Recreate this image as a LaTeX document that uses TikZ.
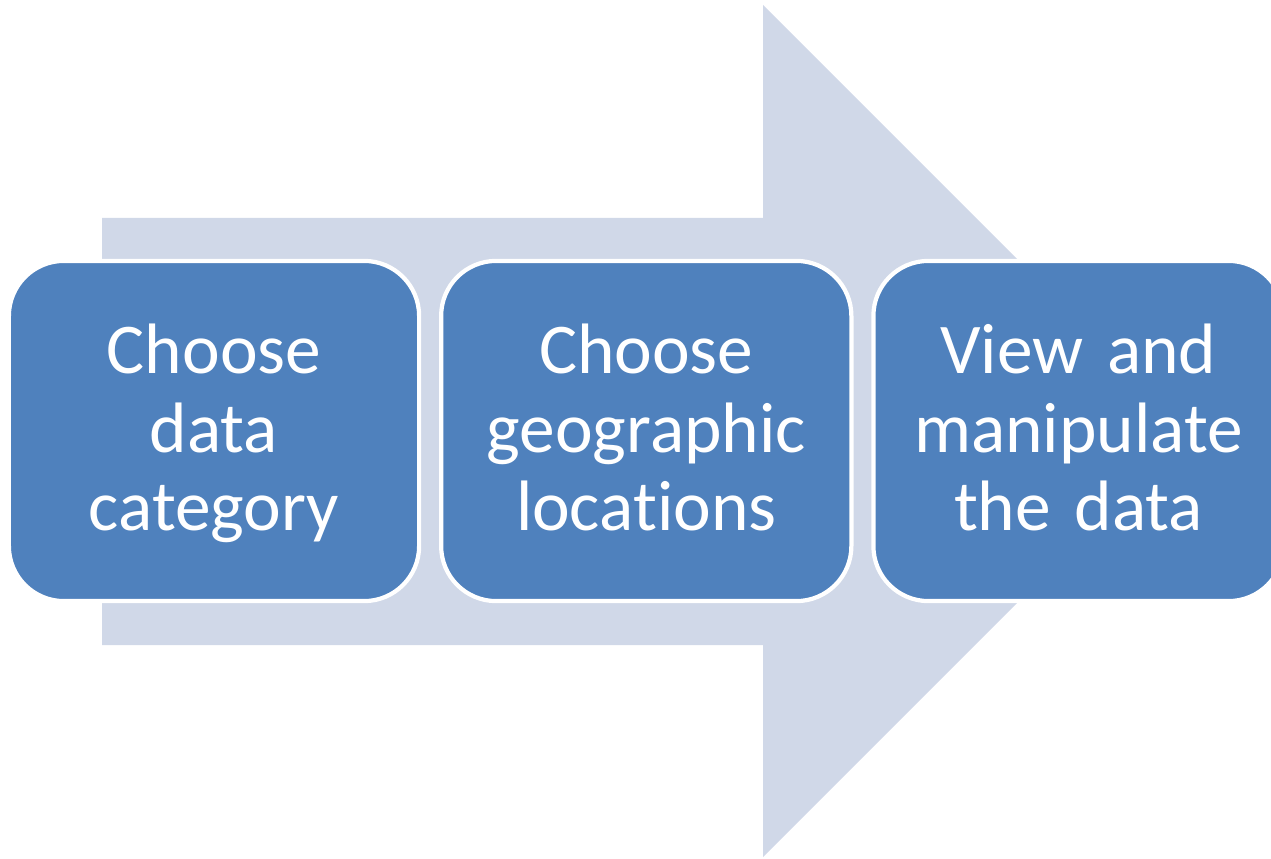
\documentclass[tikz,border=0pt]{standalone}
\usepackage{fontspec}
\setmainfont{Carlito}[Ligatures=NoCommon, WordSpace=0.85]
\usepackage{tikz}
\usetikzlibrary{shapes,arrows,arrows.meta}
\usetikzlibrary{positioning}
\definecolor{arrowgray}{HTML}{D0D8E8}
\definecolor{boxblue}{HTML}{4F81BD}
\tikzstyle{bigarrow} = [fill=arrowgray, draw=none]
\tikzstyle{stepbox} = [rectangle, rounded corners=0.55cm, draw=white, line width=1.2pt,
   fill=boxblue, text=white, minimum width=4.1cm, minimum height=3.4cm,
   text width=3.7cm, align=center, inner sep=0pt,
   text height=0.5cm, text depth=1.64cm,
   font=\fontsize{20.3pt}{22.2pt}\selectfont]

\begin{document}
\begin{tikzpicture}[x=0.01cm, y=-0.01cm, node distance=4.32cm]

\useasboundingbox (0,0) rectangle (1271,858);

% background arrow
\fill [bigarrow] (102,218) -- (763,218) -- (763,5) -- (1189,431)
   -- (763,857) -- (763,645) -- (102,645) -- cycle;

\node (s1) [stepbox] at (214,431) {Choose\\ data\\ category};

\node (s2) [stepbox, right of=s1] {Choose\\ geographic\\ locations};

\node (s3) [stepbox, right of=s2] {View and\\ manipulate\\ the data};

\end{tikzpicture}
\end{document}
